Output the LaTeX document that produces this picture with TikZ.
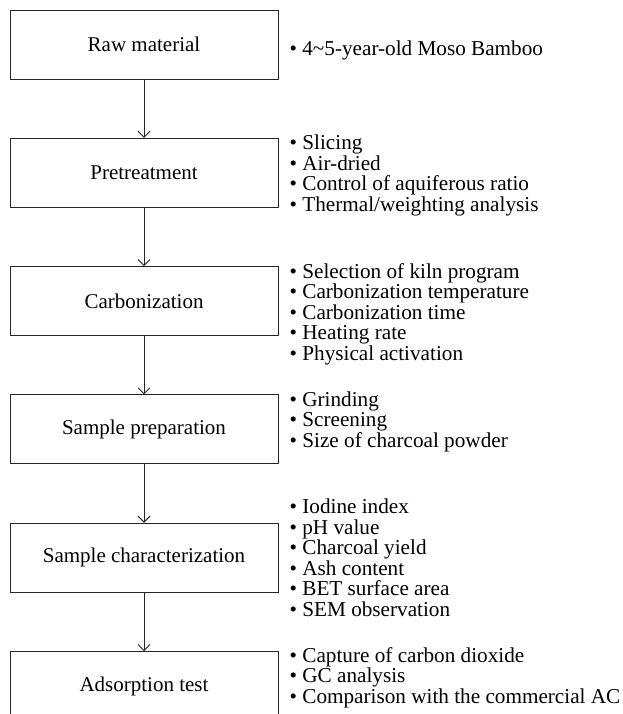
\documentclass[tikz,border=0pt]{standalone}
\usepackage{fontspec}
\setmainfont{Liberation Serif}
\usetikzlibrary{arrows.meta}
\usetikzlibrary{calc}
\usetikzlibrary{positioning}
\tikzset{
  stage/.style={
    draw=black!85, line width=0.9pt,
    minimum width=268pt, minimum height=69pt,
    inner sep=0, font=\fontsize{21}{21}\selectfont
  },
  item/.style={anchor=base west, inner sep=0, font=\fontsize{21.2}{21}\selectfont},
  arrow/.style={-{Straight Barb[length=6pt,width=12pt]}, line width=0.9pt, draw=black!85}
}

\begin{document}
\begin{tikzpicture}[x=1pt, y=1pt, node distance=58.4pt]
  \useasboundingbox (0,0) rectangle (623,-714);
  \clip (0,0) rectangle (623,-714);

  % stages
  \node[stage] (raw) at (144,-44.5) {Raw material};
  \node[stage, below=of raw] (pre) {Pretreatment};
  \node[stage, below=of pre] (carb) {Carbonization};
  \node[stage, below=of carb] (prep) {Sample preparation};
  \node[stage, below=of prep] (char) {Sample characterization};
  \node[stage, below=of char] (ads) {Adsorption test};

  \draw[arrow] (raw) -- (pre);
  \draw[arrow] (pre) -- (carb);
  \draw[arrow] (carb) -- (prep);
  \draw[arrow] (prep) -- (char);
  \draw[arrow] (char) -- (ads);

  % details
  \node[item] (raw-1) at ($(raw.north east)+(11,-46)$) {\textbullet\ 4\textasciitilde5-year-old Moso Bamboo};
  \foreach \txt [count=\k] in {Slicing, Air-dried, Control of aquiferous ratio, Thermal/weighting analysis}
    \node[item] (pre-\k) at ($(pre.north east)+(11,{-12-20.5*(\k-1)})$) {\textbullet\ \txt};
  \foreach \txt [count=\k] in {Selection of kiln program, Carbonization temperature, Carbonization time, Heating rate, Physical activation}
    \node[item] (carb-\k) at ($(carb.north east)+(11,{-12-20.5*(\k-1)})$) {\textbullet\ \txt};
  \foreach \txt [count=\k] in {Grinding, Screening, Size of charcoal powder}
    \node[item] (prep-\k) at ($(prep.north east)+(11,{-12-20.5*(\k-1)})$) {\textbullet\ \txt};
  \foreach \txt [count=\k] in {Iodine index, pH value, Charcoal yield, Ash content, BET surface area, SEM observation}
    \node[item] (char-\k) at ($(char.north east)+(11,{9-20.5*(\k-1)})$) {\textbullet\ \txt};
  \foreach \txt [count=\k] in {Capture of carbon dioxide, GC analysis, Comparison with the commercial AC}
    \node[item] (ads-\k) at ($(ads.north east)+(11,{-11-20.5*(\k-1)})$) {\textbullet\ \txt};
\end{tikzpicture}
\end{document}
